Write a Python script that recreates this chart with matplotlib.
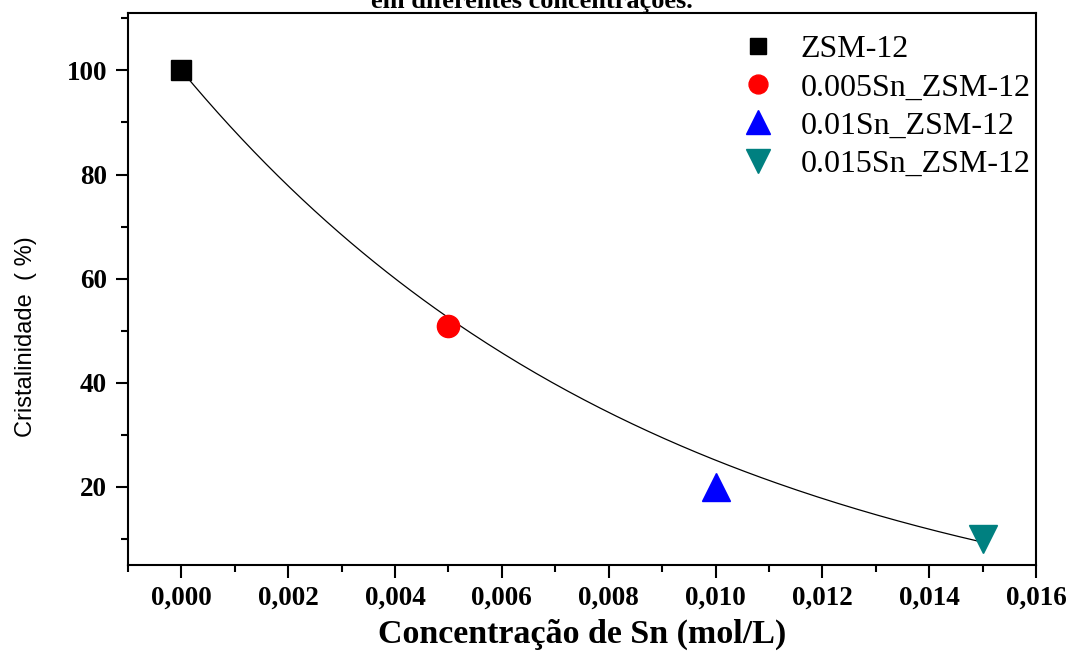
import matplotlib
matplotlib.use('Agg')
import matplotlib.pyplot as plt
from matplotlib.ticker import MultipleLocator, FuncFormatter
import numpy as np

# dados
conc = [0.0, 0.005, 0.010, 0.015]
crist = [100, 51, 20, 10]
nomes = ['ZSM-12', '0.005Sn_ZSM-12', '0.01Sn_ZSM-12', '0.015Sn_ZSM-12']
marcadores = ['s', 'o', '^', 'v']
cores = ['#000000', '#FF0000', '#0000FF', '#008080']
tamanhos = [14, 16, 20, 20]

# parâmetros do ajuste exponencial (ExpDec1)
y0_fit = -12.0
a_fit = 112.0
t_fit = 0.00906

serif = 'Liberation Serif'
sans = 'Liberation Sans'

xf = np.linspace(conc[0], conc[-1], 200)
yf = y0_fit + a_fit * np.exp(-xf / t_fit)

fig = plt.figure(figsize=(10.7, 6.57), dpi=100)
ax = fig.add_axes([0.1196, 0.140, 0.8486, 0.840])

ax.plot(xf, yf, color='black', linewidth=0.9, zorder=2)
for i in range(4):
    ax.plot(conc[i], crist[i], linestyle='none', marker=marcadores[i],
            markersize=tamanhos[i], color=cores[i], label=nomes[i], zorder=3)

ax.set_xlim(-0.001, 0.016)
ax.set_ylim(5, 111)
ax.xaxis.set_major_locator(MultipleLocator(0.002))
ax.xaxis.set_minor_locator(MultipleLocator(0.001))
ax.yaxis.set_minor_locator(MultipleLocator(10))
ax.set_yticks([20, 40, 60, 80, 100])
ax.xaxis.set_major_formatter(FuncFormatter(lambda v, p: f'{v:.3f}'.replace('.', ',')))
ax.yaxis.set_major_formatter(FuncFormatter(lambda v, p: f'{v:.0f}'))

ax.tick_params(which='major', direction='out', length=9, width=1.5, pad=6)
ax.tick_params(which='minor', direction='out', length=5, width=1.5)
ax.tick_params(top=False, right=False, which='both')
for lab in ax.get_xticklabels() + ax.get_yticklabels():
    lab.set_fontfamily(serif)
    lab.set_fontweight('bold')
    lab.set_fontsize(19.5)
for s in ax.spines.values():
    s.set_linewidth(1.5)

ax.set_xlabel('Concentração de Sn (mol/L)', fontfamily=serif, fontweight='bold',
              fontsize=24.5, va='baseline')
ax.xaxis.set_label_coords(0.5, -0.141)
ax.set_ylabel('Cristalinidade  ( %)', fontfamily=sans, fontsize=17)
ax.yaxis.set_label_coords(-0.1, 0.413)

ax.legend(loc='upper right', bbox_to_anchor=(1.012, 0.99), frameon=False,
          prop={'family': serif, 'size': 23}, handletextpad=0.35,
          labelspacing=0.28, borderaxespad=0.1, markerscale=0.85)

fig.text(0.497, 0.988, 'em diferentes concentrações.', ha='center', va='baseline',
         fontfamily=serif, fontweight='bold', fontsize=19)

plt.savefig('out.png', dpi=100)
plt.close()
